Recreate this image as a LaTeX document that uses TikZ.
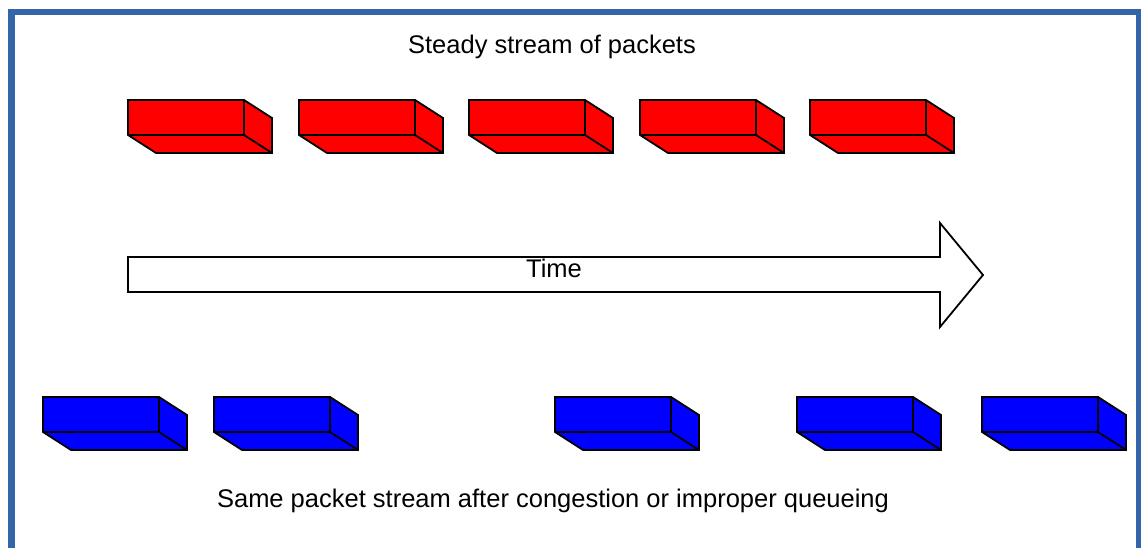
\documentclass[tikz,border=0pt]{standalone}
\usepackage{fontspec}
\setmainfont{Liberation Sans}
\definecolor{frameblue}{HTML}{3465A8}
\definecolor{pktred}{HTML}{FF0000}
\definecolor{pktblue}{HTML}{0000FF}
\tikzset{
  outline/.style={draw=black, line width=1.8bp, line join=miter},
  caption/.style={font=\fontsize{25.5bp}{28bp}\selectfont, inner sep=0pt, anchor=base},
  % a flat packet: front face, right face and underside
  pics/packet/.style={code={
    \path[outline, fill=#1]
      (0,0) -- (116,0) -- (144,18) -- (144,53) -- (28,53) -- (0,35) -- cycle;
    \draw[outline] (0,35) -- (116,35) -- (116,0);
    \draw[outline] (116,35) -- (144,53);
  }}
}
\begin{document}
\begin{tikzpicture}[x=1bp, y=-1bp]
  \useasboundingbox (0,0) rectangle (1141,548);
  \fill[white] (0,0) rectangle (1141,548);
  % frame
  \fill[frameblue] (8,9) rectangle (1141,15.5);
  \fill[frameblue] (8,9) rectangle (15,548);
  \fill[frameblue] (1136,9) rectangle (1141,548);

  \node[caption] (top) at (552,54) {Steady stream of packets};

  % steady stream
  \pic (r1) at (128,100) {packet=pktred};
  \pic (r2) at (299,100) {packet=pktred};
  \pic (r3) at (469,100) {packet=pktred};
  \pic (r4) at (640,100) {packet=pktred};
  \pic (r5) at (810,100) {packet=pktred};

  % time arrow
  \draw[outline, fill=white]
    (128,257) -- (940,257) -- (940,223) -- (983,275) -- (940,327) -- (940,292) -- (128,292) -- cycle;
  \node[caption] (time) at (554,278) {Time};

  % disturbed stream
  \pic (b1) at (43,397) {packet=pktblue};
  \pic (b2) at (214,397) {packet=pktblue};
  \pic (b3) at (555,397) {packet=pktblue};
  \pic (b4) at (797,397) {packet=pktblue};
  \pic (b5) at (982,397) {packet=pktblue};

  \node[caption] (bottom) at (553,507) {Same packet stream after congestion or improper queueing};
\end{tikzpicture}
\end{document}
